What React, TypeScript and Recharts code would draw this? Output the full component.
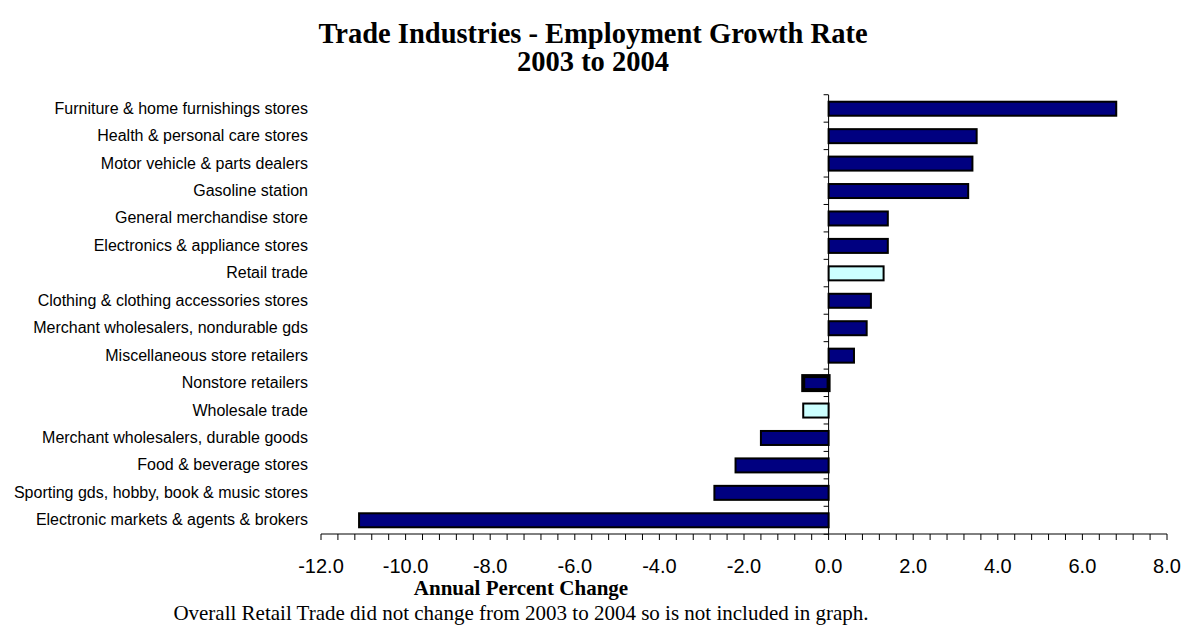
import { BarChart, Bar, XAxis, YAxis, Cell, ReferenceLine } from "recharts";

const industries = [
  "Furniture & home furnishings stores",
  "Health & personal care stores",
  "Motor vehicle & parts dealers",
  "Gasoline station",
  "General merchandise store",
  "Electronics & appliance stores",
  "Retail trade",
  "Clothing & clothing accessories stores",
  "Merchant wholesalers, nondurable gds",
  "Miscellaneous store retailers",
  "Nonstore retailers",
  "Wholesale trade",
  "Merchant wholesalers, durable goods",
  "Food & beverage stores",
  "Sporting gds, hobby, book & music stores",
  "Electronic markets & agents & brokers",
];

const growth = [6.8, 3.5, 3.4, 3.3, 1.4, 1.4, 1.3, 1.0, 0.9, 0.6, -0.6, -0.6, -1.6, -2.2, -2.7, -11.1];

// sector totals get the light fill
const totals = ["Retail trade", "Wholesale trade"];

const majorTicks = [-12, -10, -8, -6, -4, -2, 0, 2, 4, 6, 8];
const minorStep = 0.4;

const data = industries.map((name, i) => ({ name, value: growth[i] }));

const ticks: number[] = [];
for (let i = 0; i < majorTicks.length - 1; i++) {
  for (let k = 0; k < 5; k++) ticks.push(Math.round((majorTicks[i] + k * minorStep) * 10) / 10);
}
ticks.push(majorTicks[majorTicks.length - 1]);

const sans = "'Liberation Sans', Arial, sans-serif";
const serif = "'Liberation Serif', 'Times New Roman', serif";

function BarShape(props: any) {
  const { x, y, width, height, fill, stroke, strokeWidth, index, payload } = props;
  const rx = Math.min(x, x + width);
  const rw = Math.abs(width);
  const zero = payload.value >= 0 ? rx : rx + rw;
  // bar fills the middle half of its band
  const bandTop = y - height / 2;
  const bandBottom = y + height * 1.5;
  return (
    <g>
      <line x1={zero - 5} x2={zero} y1={bandTop} y2={bandTop} stroke="#000" strokeWidth={1} />
      {index === industries.length - 1 && (
        <line x1={zero - 5} x2={zero} y1={bandBottom} y2={bandBottom} stroke="#000" strokeWidth={1} />
      )}
      <rect x={rx} y={y} width={rw} height={height} fill={fill} stroke={stroke} strokeWidth={strokeWidth} />
    </g>
  );
}

function XTick(props: any) {
  const { x, y, payload } = props;
  if (!majorTicks.includes(payload.value)) return null;
  return (
    <text x={x} y={y + 31} textAnchor="middle" fontFamily={sans} fontSize={20} fill="#000">
      {payload.value.toFixed(1)}
    </text>
  );
}

function YTick(props: any) {
  const { y, payload } = props;
  return (
    <text x={308} y={y + 5} textAnchor="end" fontFamily={sans} fontSize={16} fill="#000">
      {payload.value}
    </text>
  );
}

export default function App() {
  return (
    <div style={{ position: "absolute", left: 0, top: 0, width: 1186, height: 628, background: "#fff" }}>
      <div
        style={{
          position: "absolute",
          left: 0,
          width: 1186,
          top: 20,
          textAlign: "center",
          fontFamily: serif,
          fontWeight: "bold",
          fontSize: 28.5,
          lineHeight: "28px",
        }}
      >
        Trade Industries - Employment Growth Rate
        <br />
        2003 to 2004
      </div>
      <BarChart
        width={1186}
        height={628}
        data={data}
        layout="vertical"
        margin={{ top: 95, right: 19, bottom: 64, left: 0 }}
        barCategoryGap="24.5%"
      >
        <XAxis
          type="number"
          domain={[-12, 8]}
          ticks={ticks}
          interval={0}
          height={30}
          axisLine={{ stroke: "#000" }}
          tickLine={{ stroke: "#000" }}
          tickSize={6}
          tick={<XTick />}
          allowDataOverflow
        />
        <YAxis type="category" dataKey="name" width={321} axisLine={false} tickLine={false} tick={<YTick />} interval={0} />
        <ReferenceLine x={0} stroke="#000" strokeWidth={1} />
        <Bar dataKey="value" isAnimationActive={false} stroke="#000" strokeWidth={2} shape={<BarShape />}>
          {data.map((d) => (
            <Cell
              key={d.name}
              fill={totals.includes(d.name) ? "#ccffff" : "#000080"}
              strokeWidth={d.name === "Nonstore retailers" ? 4 : 2}
            />
          ))}
        </Bar>
      </BarChart>
      <div
        style={{
          position: "absolute",
          left: 221,
          width: 600,
          top: 576,
          textAlign: "center",
          fontFamily: serif,
          fontWeight: "bold",
          fontSize: 21,
          lineHeight: "24px",
        }}
      >
        Annual Percent Change
      </div>
      <div
        style={{
          position: "absolute",
          left: 21,
          width: 1000,
          top: 601,
          textAlign: "center",
          fontFamily: serif,
          fontSize: 21,
          lineHeight: "24px",
        }}
      >
        Overall Retail Trade did not change from 2003 to 2004 so is not included in graph.
      </div>
    </div>
  );
}
